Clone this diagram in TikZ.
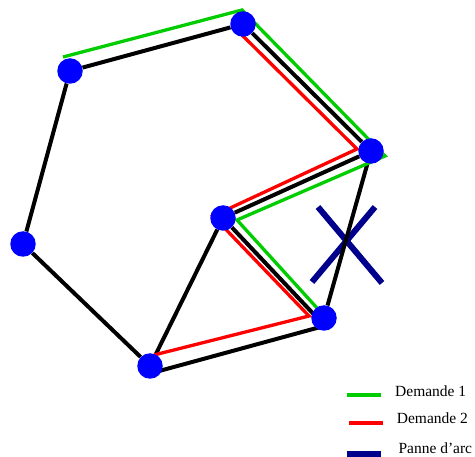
\documentclass[tikz,border=0pt]{standalone}
\usepackage{fontspec}
\setmainfont{Liberation Serif}
\usetikzlibrary{calc,backgrounds}

\definecolor{vert}{RGB}{0,205,0}
\definecolor{rouge}{RGB}{255,0,0}
\definecolor{bleu}{RGB}{0,0,255}
\definecolor{marine}{RGB}{0,0,140}

\begin{document}
\begin{tikzpicture}[x=1pt, y=-1pt,
    sommet/.style={circle, fill=bleu, minimum size=25.5pt, inner sep=0pt},
    arc/.style={line width=4pt, black},
    dem1/.style={line width=3.3pt, vert},
    dem2/.style={line width=3.3pt, rouge},
    panne/.style={line width=6pt, marine},
    lbl/.style={font=\fontsize{15.5}{18}\selectfont, anchor=base west,
                inner sep=0pt},
  ]
  \useasboundingbox (0,0) rectangle (475,457);

  \node[sommet] (a) at (70,71) {};
  \node[sommet] (b) at (243,24) {};
  \node[sommet] (c) at (371,151) {};
  \node[sommet] (d) at (223,218) {};
  \node[sommet] (e) at (324,318) {};
  \node[sommet] (f) at (150,366) {};
  \node[sommet] (g) at (23,244) {};

  \begin{scope}[on background layer]
    % arc en panne
    \draw[panne] (318,207) -- (382,283);
    \draw[panne] (375,207) -- (312,282);

    % reseau
    \draw[arc] (g) -- (a) -- (b) -- (c) -- (d) -- ($(e)+(-2,5)$);
    \draw[arc] ($(e)+(0,8)$) -- ($(f)+(0,7.5)$);
    \draw[arc] (f) -- (g);
    \draw[arc] (d) -- (f);
    \draw[arc] (c) -- (e);

    % demandes
    \draw[dem1] ($(a)+(-7,-14)$) -- ($(b)+(-1,-14)$) -- ($(c)+(14,5)$)
      -- ($(d)+(14,2)$) -- ($(e)+(-7,-10)$);
    \draw[dem2] ($(b)+(-2,10)$) -- ($(c)+(-14,-2)$) -- ($(d)+(-10,-2)$)
      -- ($(e)+(-15,-2)$) -- ($(f)+(4,-11)$);
  \end{scope}

  % legende
  \draw[dem1, line width=4pt] (347,395.5) -- (381,395.5);
  \draw[dem2, line width=4pt] (349,423) -- (383,423);
  \draw[panne] (347,454) -- (381,454);
  \node[lbl] (l1) at (395,396.7) {Demande 1};
  \node[lbl] (l2) at (396.7,423.3) {Demande 2};
  \node[lbl] (l3) at (398.3,453.3) {Panne d'arc};
\end{tikzpicture}
\end{document}
